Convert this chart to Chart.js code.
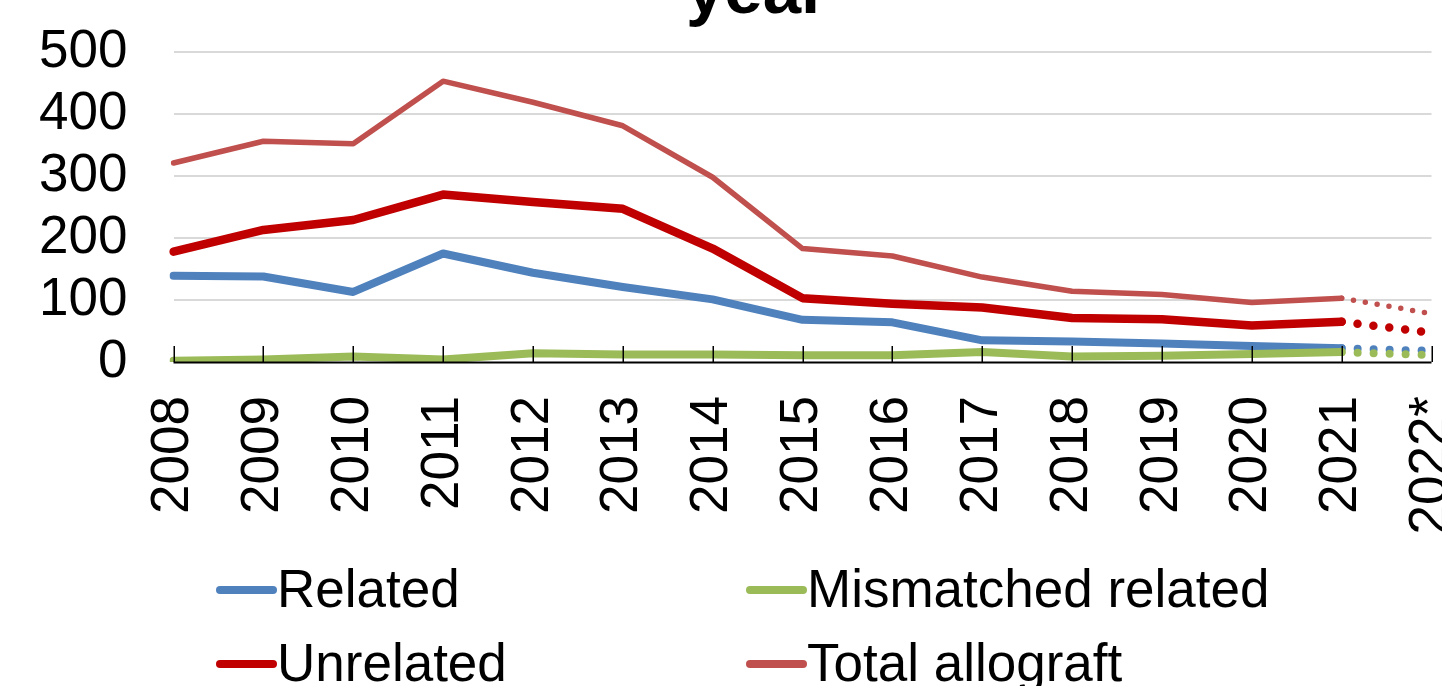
<!DOCTYPE html>
<html>
<head>
<meta charset="utf-8">
<script src="https://cdn.jsdelivr.net/npm/chart.js@4.4.0/dist/chart.umd.min.js"></script>
<style>
  html, body { margin: 0; padding: 0; background: #ffffff; overflow: hidden; }
  #wrap { position: relative; width: 1442px; height: 686px; }
  canvas { display: block; }
</style>
</head>
<body>
<div id="wrap"><canvas id="c" width="1442" height="686"></canvas></div>
<script>
// ---- Data ----
const titleText = "year";
const categories = ["2008","2009","2010","2011","2012","2013","2014","2015","2016","2017","2018","2019","2020","2021","2022*"];
const related      = [139, 138, 113, 175, 144, 121, 101, 68, 64, 35, 33, 30, 26, 22, 18];
const mismatched   = [2, 4, 9, 4, 14, 12, 12, 11, 11, 16, 9, 10, 13, 16, 11];
const unrelated    = [178, 213, 229, 270, 258, 247, 183, 103, 94, 88, 71, 69, 59, 65, 47];
const totalAllo    = [321, 356, 352, 453, 419, 381, 298, 183, 171, 137, 114, 109, 96, 103, 78];
const seriesLabels = ["Related", "Mismatched related", "Unrelated", "Total allograft"];
const seriesColors = ["#4F81BD", "#9BBB59", "#C00000", "#C0504D"];
const yTicks = [0, 100, 200, 300, 400, 500];

const FONT = "'Liberation Sans', Arial, sans-serif";
Chart.defaults.font.family = FONT;
Chart.defaults.color = "#000000";

const lastIdx = categories.length - 1;
function mkSeg(gap) {
  return { borderDash: ctx => (ctx.p1DataIndex === lastIdx ? [0, gap] : undefined) };
}

function ds(label, data, color, width, gap, order) {
  return {
    label, data,
    borderColor: color, backgroundColor: color,
    borderWidth: width,
    pointRadius: 0, pointHoverRadius: 0,
    tension: 0, fill: false,
    borderCapStyle: 'round', borderJoinStyle: 'round',
    segment: mkSeg(gap),
    order
  };
}

const titlePlugin = {
  id: 'cutTitle',
  afterDraw(chart) {
    const c = chart.ctx;
    c.save();
    c.font = "bold 69px " + FONT;
    c.fillStyle = "#000";
    c.textAlign = "left";
    c.textBaseline = "alphabetic";
    c.fillText(titleText, 686, 12.5);
    c.restore();
  }
};

const innerTicksPlugin = {
  id: 'innerTicks',
  afterDatasetsDraw(chart) {
    const x = chart.scales.x, area = chart.chartArea, c = chart.ctx;
    c.save();
    c.strokeStyle = "#000";
    c.lineWidth = 1.5;
    c.beginPath();
    for (let i = 0; i < categories.length; i++) {
      const px = Math.round(x.getPixelForValue(i)) + 0.25;
      c.moveTo(px, area.bottom);
      c.lineTo(px, area.bottom - 16);
    }
    c.stroke();
    c.lineWidth = 2;
    c.beginPath();
    c.moveTo(area.left, area.bottom + 0.5);
    c.lineTo(area.right, area.bottom + 0.5);
    c.stroke();
    c.restore();
  }
};

const legendPlugin = {
  id: 'gridLegend',
  afterDraw(chart) {
    const c = chart.ctx;
    const cols = [216, 746];
    const rows = [590, 664];
    c.save();
    c.font = "53px " + FONT;
    c.textAlign = "left";
    c.textBaseline = "alphabetic";
    chart.data.datasets.forEach((dset, k) => {
      const cx = cols[k % 2], cy = rows[Math.floor(k / 2)];
      c.strokeStyle = dset.borderColor;
      c.lineWidth = 8;
      c.lineCap = 'round';
      c.beginPath();
      c.moveTo(cx + 4, cy);
      c.lineTo(cx + 57, cy);
      c.stroke();
      c.fillStyle = "#000";
      c.fillText(dset.label, cx + 61, cy + 17);
    });
    c.restore();
  }
};

new Chart(document.getElementById('c'), {
  type: 'line',
  data: {
    labels: categories,
    datasets: [
      ds(seriesLabels[0], related,    seriesColors[0], 8,   16, 4),
      ds(seriesLabels[1], mismatched, seriesColors[1], 8,   16, 3),
      ds(seriesLabels[2], unrelated,  seriesColors[2], 8.5, 16, 2),
      ds(seriesLabels[3], totalAllo,  seriesColors[3], 5.5, 12, 1)
    ]
  },
  options: {
    responsive: false,
    animation: false,
    events: [],
    layout: { padding: { top: 52, left: 0, right: 10.5, bottom: 0 } },
    plugins: { legend: { display: false }, title: { display: false }, tooltip: { enabled: false } },
    scales: {
      x: {
        type: 'category',
        offset: false,
        grid: { display: false, drawTicks: false },
        border: { display: false },
        ticks: {
          font: { size: 53 },
          color: "#000",
          maxRotation: 90, minRotation: 90,
          padding: 34,
          autoSkip: false
        },
        afterFit(s) { s.height = 324; s.paddingLeft = 0; s.paddingRight = 0; }
      },
      y: {
        min: 0, max: 500,
        afterBuildTicks(s) { s.ticks = yTicks.map(v => ({ value: v })); },
        grid: {
          color: ctx => (ctx.tick && ctx.tick.value === 0 ? 'rgba(0,0,0,0)' : '#D9D9D9'),
          lineWidth: 2,
          drawTicks: false
        },
        border: { display: false },
        ticks: { font: { size: 53 }, color: "#000", padding: 46, autoSkip: false },
        afterFit(s) { s.width = 173.5; s.paddingTop = 0; s.paddingBottom = 0; }
      }
    }
  },
  plugins: [innerTicksPlugin, titlePlugin, legendPlugin]
});
</script>
</body>
</html>
